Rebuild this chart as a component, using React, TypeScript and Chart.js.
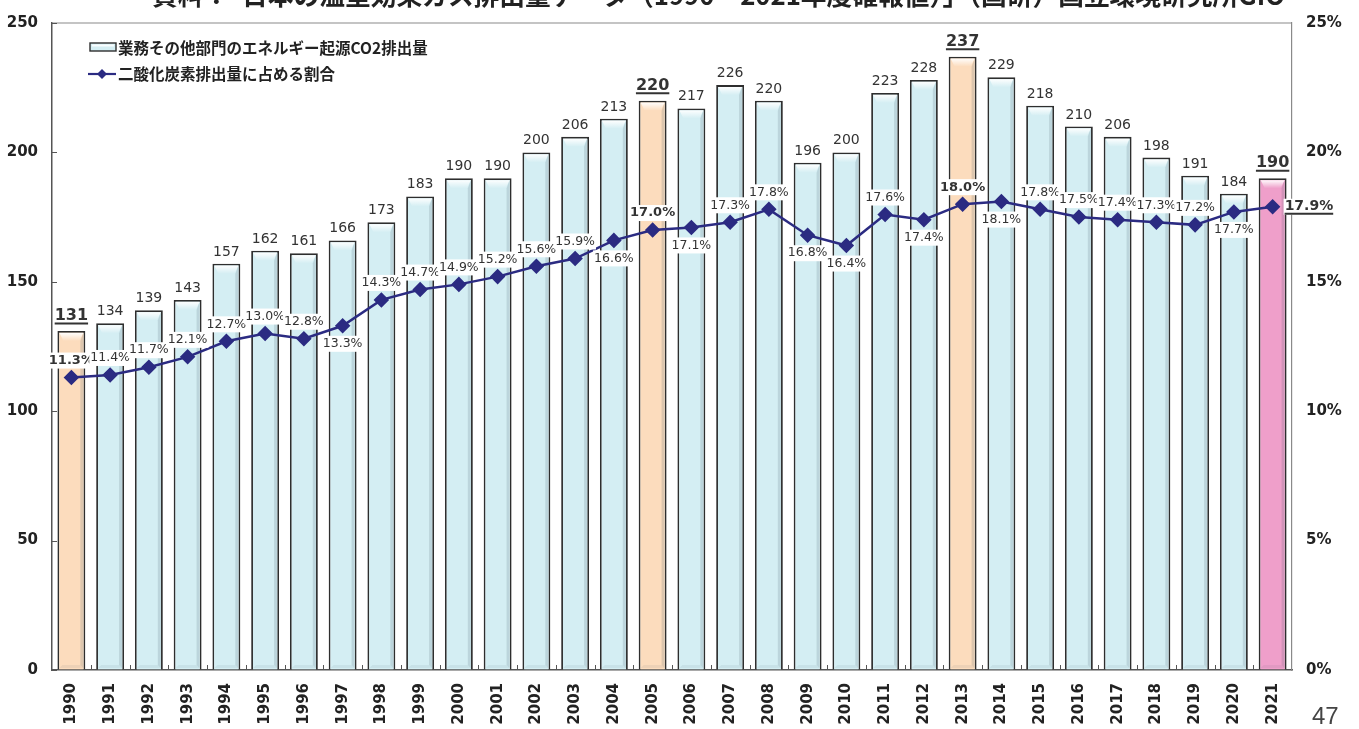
import React, { useEffect, useRef } from "react";
import { Chart, registerables } from "chart.js";

Chart.register(...registerables);

// ---------- data ----------
const years = [
  "1990", "1991", "1992", "1993", "1994", "1995", "1996", "1997", "1998", "1999",
  "2000", "2001", "2002", "2003", "2004", "2005", "2006", "2007", "2008", "2009",
  "2010", "2011", "2012", "2013", "2014", "2015", "2016", "2017", "2018", "2019",
  "2020", "2021",
];
const emissions = [
  131, 134, 139, 143, 157, 162, 161, 166, 173, 183,
  190, 190, 200, 206, 213, 220, 217, 226, 220, 196,
  200, 223, 228, 237, 229, 218, 210, 206, 198, 191,
  184, 190,
];
const shares = [
  11.3, 11.4, 11.7, 12.1, 12.7, 13.0, 12.8, 13.3, 14.3, 14.7,
  14.9, 15.2, 15.6, 15.9, 16.6, 17.0, 17.1, 17.3, 17.8, 16.8,
  16.4, 17.6, 17.4, 18.0, 18.1, 17.8, 17.5, 17.4, 17.3, 17.2,
  17.7, 17.9,
];
const leftTickMax = 250;
const rightTickMax = 25;
const emphasisYears = ["1990", "2005", "2013"];
const latestYear = "2021";
// placement of the share labels: a = above, b = below, r = right
const shareLabelPlacement = [
  "a", "a", "a", "a", "a", "a", "a", "b", "a", "a",
  "a", "a", "a", "a", "b", "a", "b", "a", "a", "b",
  "b", "a", "b", "a", "b", "a", "a", "a", "a", "a",
  "b", "r",
];

const TITLE =
  "資料：「日本の温室効果ガス排出量データ（1990～2021年度確報値）」（国研）国立環境研究所GIO";
const LEGEND_BAR = "業務その他部門のエネルギー起源CO2排出量";
const LEGEND_LINE = "二酸化炭素排出量に占める割合";
const PAGE_NO = "47";

// ---------- styles ----------
const CYAN = "#d4eef3";
const ORANGE = "#fcdcbd";
const PINK = "#ef9fca";
const NAVY = "#2b2b82";
const DARK = "#333333";
const BORDER = "#2e2e2e";
const NUM_FONT = "'DejaVu Sans', Verdana, sans-serif";
const CJK_FONT = "'Noto Sans CJK JP', 'Noto Sans', sans-serif";

const isEmph = (i: number) => emphasisYears.includes(years[i]) || years[i] === latestYear;

const barColors = years.map((y) =>
  y === latestYear ? PINK : emphasisYears.includes(y) ? ORANGE : CYAN
);

function underline(ctx: CanvasRenderingContext2D, x1: number, x2: number, y: number, w = 2) {
  ctx.save();
  ctx.strokeStyle = DARK;
  ctx.lineWidth = w;
  ctx.beginPath();
  ctx.moveTo(x1, y);
  ctx.lineTo(x2, y);
  ctx.stroke();
  ctx.restore();
}

const framePlugin = {
  id: "frame",
  beforeDatasetsDraw(chart: any) {
    const { ctx, chartArea } = chart;
    const { left, right, top, bottom } = chartArea;
    ctx.save();
    ctx.strokeStyle = "#8a8a8a";
    ctx.lineWidth = 1.2;
    ctx.beginPath();
    ctx.moveTo(left, top);
    ctx.lineTo(right, top);
    ctx.stroke();
    const ys = chart.scales.y;
    ctx.strokeStyle = "#555";
    ctx.lineWidth = 1;
    ys.ticks.forEach((t: any) => {
      const py = Math.round(ys.getPixelForValue(t.value)) + 0.5;
      ctx.beginPath();
      ctx.moveTo(left, py);
      ctx.lineTo(left + 5, py);
      ctx.stroke();
    });
    const step = (right - left) / years.length;
    for (let i = 1; i < years.length; i++) {
      const px = Math.round(left + step * i) + 0.5;
      ctx.beginPath();
      ctx.moveTo(px, bottom);
      ctx.lineTo(px, bottom - 5);
      ctx.stroke();
    }
    ctx.restore();
  },
  afterDatasetDraw(chart: any, args: any) {
    if (args.index !== 0) return;
    const { ctx } = chart;
    const meta = chart.getDatasetMeta(0);
    ctx.save();
    meta.data.forEach((bar: any) => {
      const w = bar.width;
      const x0 = bar.x - w / 2 + 2;
      const x1 = bar.x + w / 2 - 2;
      const top = bar.y + 2;
      const bottom = bar.base - 1.5;
      const g = ctx.createLinearGradient(0, top, 0, top + 8);
      g.addColorStop(0, "rgba(255,255,255,0.95)");
      g.addColorStop(1, "rgba(255,255,255,0)");
      ctx.fillStyle = g;
      ctx.beginPath();
      ctx.moveTo(x0, top);
      ctx.lineTo(x1, top);
      ctx.lineTo(x1 - 4, top + 8);
      ctx.lineTo(x0 + 4, top + 8);
      ctx.closePath();
      ctx.fill();
      ctx.fillStyle = "rgba(60,90,100,0.16)";
      ctx.beginPath();
      ctx.moveTo(x1, top);
      ctx.lineTo(x1, bottom);
      ctx.lineTo(x1 - 3, bottom - 3);
      ctx.lineTo(x1 - 3, top + 8);
      ctx.closePath();
      ctx.fill();
      ctx.fillStyle = "rgba(60,90,100,0.08)";
      ctx.beginPath();
      ctx.moveTo(x0, bottom);
      ctx.lineTo(x1, bottom);
      ctx.lineTo(x1 - 3, bottom - 3);
      ctx.lineTo(x0 + 3, bottom - 3);
      ctx.closePath();
      ctx.fill();
    });
    ctx.restore();
  },
};

const labelPlugin = {
  id: "valueLabels",
  afterDatasetsDraw(chart: any) {
    const { ctx } = chart;
    const barMeta = chart.getDatasetMeta(0);
    const lineMeta = chart.getDatasetMeta(1);
    ctx.save();
    ctx.fillStyle = DARK;
    ctx.textAlign = "center";
    ctx.textBaseline = "alphabetic";
    barMeta.data.forEach((bar: any, i: number) => {
      const txt = String(emissions[i]);
      if (isEmph(i)) {
        ctx.font = `bold 16px ${NUM_FONT}`;
        const by = bar.y - 11;
        ctx.fillText(txt, bar.x, by);
        const w = ctx.measureText(txt).width;
        underline(ctx, bar.x - w / 2, bar.x + w / 2, by + 3.5);
      } else {
        ctx.font = `14px ${NUM_FONT}`;
        ctx.fillText(txt, bar.x, bar.y - 8);
      }
    });

    ctx.textBaseline = "middle";
    lineMeta.data.forEach((pt: any, i: number) => {
      const txt = shares[i].toFixed(1) + "%";
      const bold = isEmph(i);
      ctx.font = bold ? `bold ${years[i] === latestYear ? 14 : 13}px ${NUM_FONT}` : `12.5px ${NUM_FONT}`;
      const w = ctx.measureText(txt).width;
      const place = shareLabelPlacement[i];
      let cx = pt.x;
      let cy = pt.y;
      if (place === "a") cy = pt.y - 17;
      else if (place === "b") cy = pt.y + 18;
      else cx = pt.x + 12 + w / 2;
      ctx.fillStyle = "#ffffff";
      ctx.fillRect(cx - w / 2 - 1, cy - 8, w + 2, 16);
      ctx.fillStyle = DARK;
      ctx.textAlign = "center";
      ctx.fillText(txt, cx, cy);
      if (years[i] === latestYear) underline(ctx, cx - w / 2, cx + w / 2, cy + 7);
    });
    ctx.restore();
  },
  afterDraw(chart: any) {
    const { ctx } = chart;
    ctx.save();
    ctx.fillStyle = "#222";
    ctx.font = `bold 26px ${CJK_FONT}`;
    ctx.textAlign = "left";
    ctx.textBaseline = "alphabetic";
    ctx.fillText(TITLE, 152, 5, 1133);

    const lx = 90;
    ctx.fillStyle = CYAN;
    ctx.strokeStyle = BORDER;
    ctx.lineWidth = 1.4;
    ctx.fillRect(lx, 43, 26, 8);
    ctx.strokeRect(lx, 43, 26, 8);
    ctx.fillStyle = "rgba(255,255,255,0.85)";
    ctx.fillRect(lx + 2, 44.5, 22, 2);
    ctx.strokeStyle = NAVY;
    ctx.lineWidth = 2.2;
    ctx.beginPath();
    ctx.moveTo(lx - 2, 74);
    ctx.lineTo(lx + 26, 74);
    ctx.stroke();
    ctx.fillStyle = NAVY;
    ctx.beginPath();
    ctx.moveTo(lx + 12, 69);
    ctx.lineTo(lx + 17, 74);
    ctx.lineTo(lx + 12, 79);
    ctx.lineTo(lx + 7, 74);
    ctx.closePath();
    ctx.fill();
    ctx.fillStyle = "#222";
    ctx.font = `bold 15.5px ${CJK_FONT}`;
    ctx.textBaseline = "middle";
    ctx.fillText(LEGEND_BAR, 118, 48);
    ctx.fillText(LEGEND_LINE, 118, 74);

    ctx.fillStyle = "#444";
    ctx.font = "24px 'Liberation Sans', Arial, sans-serif";
    ctx.textBaseline = "alphabetic";
    ctx.fillText(PAGE_NO, 1312, 724);
    ctx.restore();
  },
};

export default function App() {
  const canvasRef = useRef<HTMLCanvasElement | null>(null);

  useEffect(() => {
    if (!canvasRef.current) return;
    const tickFont = { family: NUM_FONT, size: 15, weight: "bold" as const };
    const chart = new Chart(canvasRef.current, {
      type: "bar",
      data: {
        labels: years,
        datasets: [
          {
            type: "bar",
            label: LEGEND_BAR,
            data: emissions,
            yAxisID: "y",
            backgroundColor: barColors,
            borderColor: BORDER,
            borderWidth: 1.8,
            barPercentage: 0.72,
            categoryPercentage: 1,
            order: 2,
          },
          {
            type: "line",
            label: LEGEND_LINE,
            data: shares,
            yAxisID: "y1",
            borderColor: NAVY,
            backgroundColor: NAVY,
            borderWidth: 2.5,
            pointStyle: "rectRot",
            pointRadius: 6,
            pointBackgroundColor: NAVY,
            pointBorderColor: NAVY,
            tension: 0,
            order: 1,
          } as any,
        ],
      },
      options: {
        responsive: true,
        maintainAspectRatio: false,
        animation: false,
        layout: { padding: { top: 19, left: 0, right: 0, bottom: 0 } },
        plugins: {
          legend: { display: false },
          tooltip: { enabled: false },
          title: { display: false },
        },
        scales: {
          x: {
            grid: { display: true, drawOnChartArea: false, drawTicks: false },
            border: { display: true, color: "#555", width: 1.5 },
            ticks: {
              autoSkip: false,
              minRotation: 90,
              maxRotation: 90,
              padding: 13,
              color: "#222",
              font: tickFont,
            },
            afterFit: (s: any) => {
              s.height = 59;
            },
          },
          y: {
            position: "left",
            min: 0,
            max: leftTickMax,
            grid: { display: true, drawOnChartArea: false, drawTicks: false },
            border: { display: true, color: "#555", width: 1.5 },
            ticks: { stepSize: 50, padding: 14, color: "#222", font: tickFont },
            afterFit: (s: any) => {
              s.width = 52;
            },
          },
          y1: {
            position: "right",
            min: 0,
            max: rightTickMax,
            grid: { display: true, drawOnChartArea: false, drawTicks: false },
            border: { display: true, color: "#8a8a8a", width: 1.2 },
            ticks: {
              stepSize: 5,
              padding: 14,
              color: "#222",
              font: tickFont,
              callback: (v: any) => `${v}%`,
            },
            afterFit: (s: any) => {
              s.width = 67;
            },
          },
        },
      },
      plugins: [framePlugin, labelPlugin],
    });
    return () => chart.destroy();
  }, []);

  return (
    <div
      style={{
        position: "absolute",
        left: 0,
        top: 0,
        width: 1359,
        height: 729,
        background: "#fff",
        overflow: "hidden",
      }}
    >
      <canvas ref={canvasRef} />
    </div>
  );
}
